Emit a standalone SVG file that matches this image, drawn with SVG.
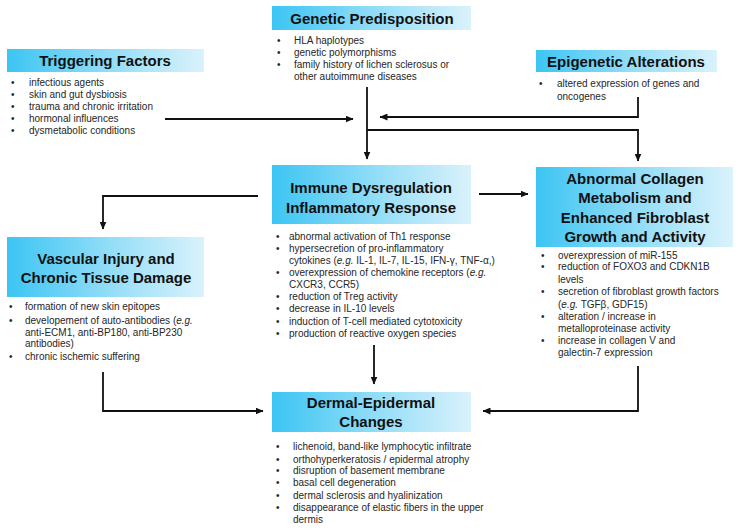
<svg xmlns="http://www.w3.org/2000/svg" width="742" height="530" viewBox="0 0 742 530">
<defs>
<linearGradient id="g" x1="0" y1="0" x2="1" y2="0">
<stop offset="0" stop-color="#3cc5f3"/>
<stop offset="0.5" stop-color="#8fdcf7"/>
<stop offset="1" stop-color="#daf2fc"/>
</linearGradient>
<marker id="ah" markerUnits="userSpaceOnUse" markerWidth="8" markerHeight="7" refX="7.5" refY="3.5" orient="auto">
<path d="M0,0 L8,3.5 L0,7 z" fill="#111"/>
</marker>
<style>
.box{fill:url(#g);}
.t{font-family:"Liberation Sans",Arial,sans-serif;font-weight:bold;font-size:15px;fill:#111;text-anchor:middle;}
.b{font-family:"Liberation Sans",Arial,sans-serif;font-size:10px;fill:#262626;}
.c{fill:none;stroke:#111;stroke-width:1.8;marker-end:url(#ah);}
.n{fill:none;stroke:#111;stroke-width:1.8;}
</style>
</defs>
<rect width="742" height="530" fill="#fff"/>

<g id="connectors">
<path class="c" d="M367,87 V159"/>
<path class="c" d="M165,119 H353"/>
<path class="c" d="M638,97 V117 H380"/>
<path class="c" d="M367,130 H638 V161"/>
<path class="c" d="M479,194 H528"/>
<path class="c" d="M258,196 H103 V229"/>
<path class="c" d="M374,345 V384"/>
<path class="c" d="M103,372 V411 H263"/>
<path class="c" d="M638,366 V411 H483"/>
</g>

<g id="genetic">
<rect class="box" x="272" y="6" width="199" height="24"/>
<text class="t" x="372" y="24">Genetic Predisposition</text>
<text class="b"><tspan x="277" y="44">•</tspan><tspan x="294" y="44">HLA haplotypes</tspan><tspan x="277" y="56">•</tspan><tspan x="294" y="56">genetic polymorphisms</tspan><tspan x="277" y="68">•</tspan><tspan x="294" y="68">family history of lichen sclerosus or</tspan><tspan x="294" y="80">other autoimmune diseases</tspan></text>
</g>

<g id="triggering">
<rect class="box" x="7" y="49" width="197" height="23"/>
<text class="t" x="105" y="66">Triggering Factors</text>
<text class="b"><tspan x="11" y="86">•</tspan><tspan x="29" y="86">infectious agents</tspan><tspan x="11" y="98">•</tspan><tspan x="29" y="98">skin and gut dysbiosis</tspan><tspan x="11" y="110">•</tspan><tspan x="29" y="110">trauma and chronic irritation</tspan><tspan x="11" y="122">•</tspan><tspan x="29" y="122">hormonal influences</tspan><tspan x="11" y="134">•</tspan><tspan x="29" y="134">dysmetabolic conditions</tspan></text>
</g>

<g id="epigenetic">
<rect class="box" x="536" y="50" width="181" height="22"/>
<text class="t" x="626" y="67">Epigenetic Alterations</text>
<text class="b"><tspan x="539" y="87">•</tspan><tspan x="557" y="87">altered expression of genes and</tspan><tspan x="557" y="99.5">oncogenes</tspan></text>
</g>

<g id="immune">
<rect class="box" x="272" y="165" width="199" height="59"/>
<text class="t"><tspan x="371" y="193">Immune Dysregulation</tspan><tspan x="371" y="213">Inflammatory Response</tspan></text>
<text class="b"><tspan x="276" y="239.5">•</tspan><tspan x="289" y="239.5">abnormal activation of Th1 response</tspan><tspan x="276" y="251.7">•</tspan><tspan x="289" y="251.7">hypersecretion of pro-inflammatory</tspan><tspan x="289" y="263.8">cytokines (<tspan font-style="italic">e.g.</tspan> IL-1, IL-7, IL-15, IFN-γ, TNF-α,)</tspan><tspan x="276" y="276">•</tspan><tspan x="289" y="276">overexpression of chemokine receptors (<tspan font-style="italic">e.g.</tspan></tspan><tspan x="289" y="288">CXCR3, CCR5)</tspan><tspan x="276" y="300.3">•</tspan><tspan x="289" y="300.3">reduction of Treg activity</tspan><tspan x="276" y="312.4">•</tspan><tspan x="289" y="312.4">decrease in IL-10 levels</tspan><tspan x="276" y="324.6">•</tspan><tspan x="289" y="324.6">induction of T-cell mediated cytotoxicity</tspan><tspan x="276" y="336.7">•</tspan><tspan x="289" y="336.7">production of reactive oxygen species</tspan></text>
</g>

<g id="abnormal">
<rect class="box" x="536" y="167" width="197" height="80"/>
<text class="t"><tspan x="635" y="184">Abnormal Collagen</tspan><tspan x="635" y="203">Metabolism and</tspan><tspan x="635" y="222.5">Enhanced Fibroblast</tspan><tspan x="635" y="241.5">Growth and Activity</tspan></text>
<text class="b"><tspan x="541" y="258.5">•</tspan><tspan x="558" y="258.5">overexpression of miR-155</tspan><tspan x="541" y="270.2">•</tspan><tspan x="558" y="270.2">reduction of FOXO3 and CDKN1B</tspan><tspan x="558" y="282.8">levels</tspan><tspan x="541" y="295.2">•</tspan><tspan x="558" y="295.2">secretion of fibroblast growth factors</tspan><tspan x="558" y="307.5">(<tspan font-style="italic">e.g.</tspan> TGFβ, GDF15)</tspan><tspan x="541" y="319.5">•</tspan><tspan x="558" y="319.5">alteration / increase in</tspan><tspan x="558" y="331.8">metalloproteinase activity</tspan><tspan x="541" y="343.5">•</tspan><tspan x="558" y="343.5">increase in collagen V and</tspan><tspan x="558" y="356.2">galectin-7 expression</tspan></text>
</g>

<g id="vascular">
<rect class="box" x="7" y="237" width="197" height="60"/>
<text class="t"><tspan x="106" y="264">Vascular Injury and</tspan><tspan x="106" y="282.5">Chronic Tissue Damage</tspan></text>
<text class="b"><tspan x="9" y="310">•</tspan><tspan x="25" y="310">formation of new skin epitopes</tspan><tspan x="9" y="324">•</tspan><tspan x="25" y="324">developement of auto-antibodies (<tspan font-style="italic">e.g.</tspan></tspan><tspan x="25" y="335.5">anti-ECM1, anti-BP180, anti-BP230</tspan><tspan x="25" y="347">antibodies)</tspan><tspan x="9" y="360">•</tspan><tspan x="25" y="360">chronic ischemic suffering</tspan></text>
</g>

<g id="dermal">
<rect class="box" x="272" y="392" width="199" height="40"/>
<text class="t"><tspan x="371" y="408.3">Dermal-Epidermal</tspan><tspan x="371" y="426.7">Changes</tspan></text>
<text class="b"><tspan x="276" y="450.2">•</tspan><tspan x="293" y="450.2">lichenoid, band-like lymphocytic infiltrate</tspan><tspan x="276" y="462.5">•</tspan><tspan x="293" y="462.5">orthohyperkeratosis / epidermal atrophy</tspan><tspan x="276" y="474.2">•</tspan><tspan x="293" y="474.2">disruption of basement membrane</tspan><tspan x="276" y="486.2">•</tspan><tspan x="293" y="486.2">basal cell degeneration</tspan><tspan x="276" y="498.5">•</tspan><tspan x="293" y="498.5">dermal sclerosis and hyalinization</tspan><tspan x="276" y="510.8">•</tspan><tspan x="293" y="510.8">disappearance of elastic fibers in the upper</tspan><tspan x="293" y="522.8">dermis</tspan></text>
</g>
</svg>
